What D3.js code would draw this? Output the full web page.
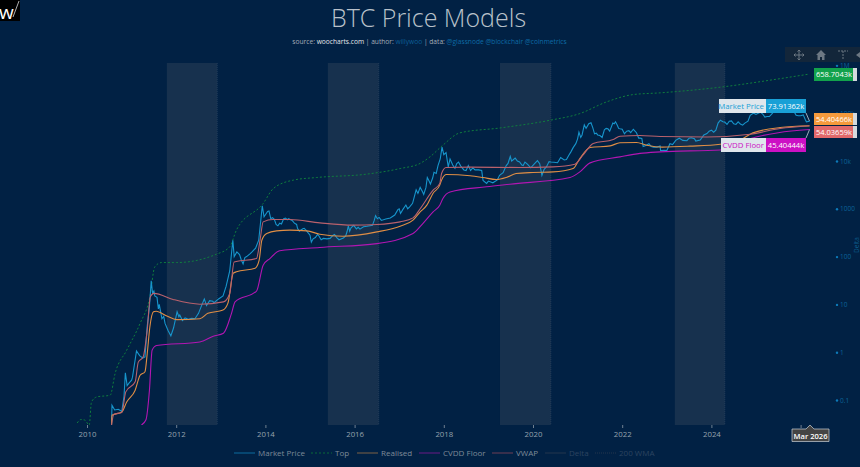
<!DOCTYPE html>
<html>
<head>
<meta charset="utf-8">
<script src="https://cdn.jsdelivr.net/npm/d3@7"></script>
<style>
  html, body { margin: 0; padding: 0; background: #012144; overflow: hidden; }
  text { font-family: "Open Sans", sans-serif; }
</style>
</head>
<body>
<div id="chart"></div>
<script>
// values: [decimal year, usd]
var marketPrice = [[2010.55,0.03],[2010.56,0.078],[2010.62,0.062],[2010.7,0.064],[2010.78,0.058],[2010.83,0.12],[2010.86,0.37],[2010.9,0.2],[2010.95,0.23],[2011.0,0.26],[2011.02,0.3],[2011.08,0.7],[2011.11,1.06],[2011.18,0.85],[2011.25,0.75],[2011.3,0.8],[2011.35,3.5],[2011.4,9],[2011.44,31],[2011.47,17],[2011.5,19],[2011.52,15],[2011.57,14],[2011.6,8],[2011.62,10],[2011.68,5],[2011.72,5.6],[2011.75,4],[2011.82,2.8],[2011.88,2.2],[2011.94,3.2],[2012.02,7],[2012.06,5.5],[2012.08,6],[2012.14,4.6],[2012.2,5.2],[2012.27,4.9],[2012.35,5.1],[2012.42,5],[2012.5,6.5],[2012.58,10],[2012.63,13],[2012.68,9.5],[2012.75,12],[2012.82,11.6],[2012.85,10.8],[2012.95,13],[2013.05,15],[2013.12,24],[2013.2,50],[2013.27,220],[2013.3,100],[2013.36,125],[2013.42,110],[2013.46,85],[2013.5,70],[2013.54,95],[2013.58,100],[2013.66,115],[2013.7,125],[2013.78,150],[2013.85,220],[2013.93,1150],[2013.97,680],[2014.0,750],[2014.05,880],[2014.08,900],[2014.12,620],[2014.16,650],[2014.2,600],[2014.24,470],[2014.28,440],[2014.32,500],[2014.36,480],[2014.41,620],[2014.45,640],[2014.49,590],[2014.52,620],[2014.6,570],[2014.65,500],[2014.7,470],[2014.72,390],[2014.76,340],[2014.8,360],[2014.84,380],[2014.87,390],[2014.92,350],[2014.95,320],[2015.0,280],[2015.03,200],[2015.07,235],[2015.12,250],[2015.17,290],[2015.2,270],[2015.25,225],[2015.3,240],[2015.38,235],[2015.45,240],[2015.52,280],[2015.55,290],[2015.6,250],[2015.65,225],[2015.75,245],[2015.8,270],[2015.83,330],[2015.86,440],[2015.89,340],[2015.92,400],[2015.98,450],[2016.04,380],[2016.08,410],[2016.12,375],[2016.2,420],[2016.28,430],[2016.4,450],[2016.44,570],[2016.47,720],[2016.51,620],[2016.55,660],[2016.6,570],[2016.7,610],[2016.8,640],[2016.9,740],[2016.97,960],[2017.0,1000],[2017.03,800],[2017.08,960],[2017.15,1200],[2017.19,1000],[2017.23,1080],[2017.3,1300],[2017.38,2500],[2017.42,2100],[2017.47,2800],[2017.52,2300],[2017.55,2000],[2017.6,2800],[2017.63,4500],[2017.67,3800],[2017.7,3300],[2017.75,4400],[2017.78,5800],[2017.83,5500],[2017.87,8000],[2017.92,11000],[2017.96,19500],[2018.0,13500],[2018.05,15000],[2018.1,7500],[2018.14,11000],[2018.2,8200],[2018.25,7000],[2018.29,8800],[2018.33,9500],[2018.38,7800],[2018.45,6500],[2018.5,6300],[2018.55,8000],[2018.6,6300],[2018.65,7200],[2018.7,6500],[2018.78,6500],[2018.85,6300],[2018.88,3900],[2018.96,3400],[2019.0,3800],[2019.1,3500],[2019.2,4000],[2019.25,5000],[2019.33,5700],[2019.4,8000],[2019.44,8900],[2019.49,12500],[2019.52,10000],[2019.55,10500],[2019.6,11500],[2019.65,10000],[2019.7,9500],[2019.75,8200],[2019.78,8000],[2019.82,9500],[2019.88,8500],[2019.95,7200],[2020.03,8700],[2020.1,10200],[2020.15,8800],[2020.2,5000],[2020.25,6700],[2020.3,7500],[2020.36,9700],[2020.4,9500],[2020.47,9400],[2020.55,9200],[2020.62,11800],[2020.7,10500],[2020.75,10700],[2020.8,13000],[2020.85,15500],[2020.9,19000],[2020.96,23000],[2021.0,29000],[2021.03,40000],[2021.07,31000],[2021.1,35000],[2021.15,57000],[2021.19,48000],[2021.25,60000],[2021.3,63000],[2021.34,50000],[2021.38,37000],[2021.42,38000],[2021.45,35000],[2021.5,34000],[2021.55,31000],[2021.6,45000],[2021.64,48000],[2021.68,47000],[2021.72,42000],[2021.79,62000],[2021.82,60000],[2021.85,66000],[2021.89,56000],[2021.92,48000],[2021.95,47000],[2022.0,46000],[2022.05,37000],[2022.1,42000],[2022.15,43000],[2022.19,39000],[2022.25,46000],[2022.32,39000],[2022.37,30000],[2022.4,30000],[2022.44,29500],[2022.47,20000],[2022.53,21000],[2022.6,23000],[2022.65,20000],[2022.7,19500],[2022.78,19500],[2022.85,20500],[2022.86,16500],[2022.94,16800],[2023.0,16500],[2023.07,23000],[2023.13,22000],[2023.2,27000],[2023.28,30000],[2023.36,27000],[2023.45,26500],[2023.5,30000],[2023.55,30500],[2023.62,29300],[2023.65,26000],[2023.75,27500],[2023.83,35000],[2023.9,37500],[2023.95,42000],[2024.0,44000],[2024.05,40000],[2024.1,44000],[2024.15,62000],[2024.2,71000],[2024.26,66000],[2024.3,65000],[2024.35,58000],[2024.4,68000],[2024.45,69000],[2024.5,60000],[2024.55,58000],[2024.6,66000],[2024.65,59000],[2024.7,56000],[2024.75,62000],[2024.82,68000],[2024.87,90000],[2024.92,97000],[2024.95,100000],[2025.0,94000],[2025.05,100000],[2025.1,105000],[2025.15,96000],[2025.2,83000],[2025.25,85000],[2025.3,85000],[2025.35,95000],[2025.4,108000],[2025.45,104000],[2025.5,108000],[2025.54,118000],[2025.58,118000],[2025.63,115000],[2025.68,110000],[2025.75,115000],[2025.77,123000],[2025.8,112000],[2025.83,110000],[2025.87,101000],[2025.9,90000],[2025.95,88000],[2026.0,88000],[2026.06,92000],[2026.1,75000],[2026.13,66000],[2026.2,68000]];

var topModel = [[2009.78,0.033],[2009.86,0.039],[2009.95,0.038],[2010.05,0.03],[2010.1,0.091],[2010.22,0.116],[2010.52,0.126],[2010.63,0.358],[2010.89,1.1],[2011.19,4],[2011.41,14.4],[2011.52,61],[2011.67,75],[2012.01,75],[2012.9,112],[2013.2,160],[2013.35,357],[2013.95,1290],[2014.18,2660],[2014.63,3980],[2015.15,4510],[2016.27,5300],[2017.02,6940],[2017.47,8900],[2017.69,12200],[2017.98,21400],[2018.36,38700],[2019.26,49000],[2020.38,71000],[2021.05,98000],[2021.65,172000],[2022.25,245000],[2022.85,266000],[2024.26,355000],[2025.38,500000],[2026.2,658704]];

var realised = [[2010.55,0.03],[2010.56,0.048],[2010.78,0.056],[2010.89,0.091],[2011.08,0.16],[2011.19,0.33],[2011.3,0.39],[2011.35,0.93],[2011.41,3.4],[2011.49,7],[2011.55,7.2],[2011.79,5.7],[2012.01,4.8],[2012.53,5],[2012.71,6.5],[2013.05,7.6],[2013.16,10.6],[2013.28,45],[2013.35,48],[2013.77,57],[2013.86,84],[2013.92,220],[2014.03,304],[2014.25,345],[2014.55,357],[2014.93,345],[2015.22,294],[2015.74,267],[2016.5,329],[2017.02,432],[2017.31,578],[2017.47,860],[2017.62,1190],[2017.76,2120],[2017.91,3120],[2017.95,3980],[2018.06,5220],[2018.59,4900],[2018.88,4510],[2019.18,4090],[2019.4,4510],[2019.62,5470],[2020.0,5750],[2020.45,5900],[2020.9,6940],[2021.05,11200],[2021.28,19100],[2021.73,20700],[2021.95,24000],[2022.32,24400],[2022.55,21400],[2022.9,19500],[2023.52,20400],[2024.2,22400],[2024.64,27200],[2024.93,38700],[2025.54,50000],[2026.2,54405]];

var cvddFloor = [[2011.22,0.03],[2011.32,0.038],[2011.4,0.16],[2011.46,1.1],[2011.56,1.38],[2012.53,1.64],[2012.83,2.16],[2013.06,2.5],[2013.24,6.5],[2013.32,11.3],[2013.8,18.9],[2013.95,66],[2014.1,91],[2014.32,132],[2015.22,155],[2016.5,187],[2017.31,304],[2017.53,490],[2017.76,860],[2017.91,1190],[2017.98,1640],[2018.14,2250],[2018.96,2880],[2019.48,3270],[2020.83,4510],[2021.05,5900],[2021.28,9120],[2021.95,12200],[2022.4,14400],[2022.85,15500],[2024.2,17000],[2024.5,22000],[2024.9,30000],[2025.5,39000],[2026.2,45404]];

var vwap = [[2010.55,0.03],[2010.6,0.05],[2010.78,0.055],[2010.87,0.148],[2011.08,0.24],[2011.15,0.62],[2011.26,0.8],[2011.35,2.9],[2011.42,14.4],[2011.5,17],[2011.93,12.7],[2012.53,10.1],[2013.06,11.3],[2013.2,16.9],[2013.3,77],[2013.8,91],[2013.88,220],[2013.95,532],[2014.17,597],[2014.55,597],[2015.22,507],[2015.96,454],[2016.5,468],[2017.02,532],[2017.31,645],[2017.47,1000],[2017.76,2450],[2017.91,3370],[2017.95,5470],[2018.05,7300],[2018.59,7420],[2019.7,7300],[2020.45,7530],[2020.94,8570],[2021.12,13200],[2021.35,23200],[2021.8,28100],[2021.95,33000],[2022.4,34100],[2022.85,32500],[2023.9,31800],[2024.87,36300],[2025.54,47900],[2026.2,54037]];

var cycleBands = [[2011.79,2012.92],[2015.4,2016.54],[2019.26,2020.4],[2023.18,2024.3]];
var yearTicks = [2010,2012,2014,2016,2018,2020,2022,2024,2026];
var priceTicks = [0.1,1,10,100,1000,10000,100000,1000000];
var priceTickLabels = ["0.1","1","10","100","1000","10k","100k","1M"];
var legendNames = ["Market Price","Top","Realised","CVDD Floor","VWAP","Delta","200 WMA"];
var legendColors = ["#0d6d9e","#0b6b38","#7f6245","#6a1a86","#6f3f55","#24364d","#24364d"];
var legendTextColors = ["#7e8b98","#7e8b98","#7e8b98","#7e8b98","#7e8b98","#2c4460","#2c4460"];
var legendDashes = [null,"2,2",null,null,null,null,"1,1"];
var legendX = [234,311,357,419,492,545,595];

var width = 860, height = 467;
var x = d3.scaleLinear().domain([2009, 2027]).range([87 - 44.6, 87 + 17 * 44.6]);
var y = d3.scaleLog().domain([0.03, 1120000]).range([425, 63]);

var svg = d3.select("#chart").append("svg")
  .attr("width", width)
  .attr("height", height)
  .style("display", "block");

svg.append("rect").attr("width", width).attr("height", height).attr("fill", "#012144");

svg.append("defs").append("clipPath").attr("id", "plot")
  .append("rect").attr("x", 40).attr("y", 63).attr("width", 780).attr("height", 362);

// shaded bands
svg.selectAll(".band").data(cycleBands).enter().append("rect")
  .attr("class", "band")
  .attr("x", function(d) { return x(d[0]); })
  .attr("width", function(d) { return x(d[1]) - x(d[0]); })
  .attr("y", 63).attr("height", 362)
  .attr("fill", "#17314e");

svg.selectAll(".bandEdge").data(cycleBands).enter().append("line")
  .attr("class", "bandEdge")
  .attr("x1", function(d) { return x(d[1]); })
  .attr("x2", function(d) { return x(d[1]); })
  .attr("y1", 63).attr("y2", 425)
  .attr("stroke", "#2b4460").attr("stroke-width", 0.7).attr("stroke-dasharray", "1,1");

// axes (the 2026 label sits under the date tooltip)
var xAxis = d3.axisBottom(x).tickValues(yearTicks)
  .tickFormat(function(d) { return d === 2026 ? "" : d3.format("d")(d); })
  .tickSize(3).tickPadding(3);
var xG = svg.append("g").attr("transform", "translate(0,425)").call(xAxis);
xG.select(".domain").remove();
xG.selectAll("line").attr("stroke", "#6f7f90");
xG.selectAll("text").attr("fill", "#96a1ad").attr("font-size", 7.8);

var yAxis = d3.axisRight(y).tickValues(priceTicks)
  .tickFormat(function(d) { return priceTickLabels[priceTicks.indexOf(d)]; })
  .tickSize(0).tickPadding(0);
var yG = svg.append("g").attr("transform", "translate(840,0)").call(yAxis);
yG.select(".domain").remove();
yG.selectAll("text").attr("fill", "#0b6298").attr("font-size", 6.5);
yG.selectAll(".tick").append("circle").attr("cx", -3).attr("r", 1.2).attr("fill", "#0d7ab8");

svg.append("text").attr("transform", "translate(859,245) rotate(-90)")
  .attr("text-anchor", "middle").attr("font-size", 6.5).attr("fill", "#0b5a8a").text("Delta");

// model lines
var line = d3.line().x(function(d) { return x(d[0]); }).y(function(d) { return y(d[1]); });
var smooth = d3.line().curve(d3.curveMonotoneX).x(function(d) { return x(d[0]); }).y(function(d) { return y(d[1]); });
var plot = svg.append("g").attr("clip-path", "url(#plot)");

function addLine(gen, data, color, w, dash) {
  plot.append("path").datum(data)
    .attr("d", gen)
    .attr("fill", "none")
    .attr("stroke", color)
    .attr("stroke-width", w)
    .attr("stroke-dasharray", dash);
}
addLine(smooth, topModel, "#0f7d3e", 1, "2,2");
addLine(line, marketPrice, "#1795cc", 1.1, null);
addLine(smooth, cvddFloor, "#b216b2", 1.1, null);
addLine(smooth, realised, "#e08e45", 1.1, null);
addLine(smooth, vwap, "#b9616c", 1.1, null);

// legend
legendNames.forEach(function(name, i) {
  svg.append("line")
    .attr("x1", legendX[i]).attr("x2", legendX[i] + 21)
    .attr("y1", 453).attr("y2", 453)
    .attr("stroke", legendColors[i]).attr("stroke-width", 1)
    .attr("stroke-dasharray", legendDashes[i]);
  svg.append("text")
    .attr("x", legendX[i] + 24).attr("y", 456)
    .attr("font-size", 8).attr("fill", legendTextColors[i])
    .text(name);
});

// title
svg.append("text").attr("x", 428.5).attr("y", 27).attr("text-anchor", "middle")
  .attr("font-size", 25).attr("font-weight", 300).attr("fill", "#b9c1ca")
  .text("BTC Price Models");
var sub = svg.append("text").attr("x", 429.5).attr("y", 44).attr("text-anchor", "middle").attr("font-size", 6.65);
[["source: ","#a4adb7"],["woocharts.com","#e4e7ea"],[" | author: ","#a4adb7"],["willywoo","#0d5f98"],
 [" | data: ","#a4adb7"],["@glassnode @blockchair @coinmetrics","#0d6ba6"]].forEach(function(p) {
  sub.append("tspan").attr("fill", p[1]).text(p[0]);
});

// logo
svg.append("rect").attr("width", 20).attr("height", 21).attr("fill", "#000");
svg.append("text").attr("x", -1).attr("y", 19).attr("font-size", 19).attr("font-family", "Liberation Serif")
  .attr("fill", "#fff").text("w");
svg.append("path").attr("d", "M13 17L19 1").attr("stroke", "#fff").attr("stroke-width", 0.7);

// modebar
var bar = svg.append("g");
bar.append("rect").attr("x", 785).attr("y", 47).attr("width", 75).attr("height", 15).attr("fill", "#13263a");
bar.append("path").attr("d", "M799 50V60M794 55H804M797.5 51.5L799 50L800.5 51.5M797.5 58.5L799 60L800.5 58.5M795.5 53.5L794 55L795.5 56.5M802.5 53.5L804 55L802.5 56.5")
  .attr("stroke", "#6d7883").attr("fill", "none").attr("stroke-width", 1);
bar.append("path").attr("d", "M816 55L821 50L826 55H824.5V60H822V57H820V60H817.5V55Z").attr("fill", "#6d7883");
bar.append("path").attr("d", "M838 51H848M843 51V60").attr("stroke", "#6d7883").attr("stroke-dasharray", "2,1").attr("fill", "none");
bar.append("path").attr("d", "M860 52L856 55L860 58Z").attr("fill", "#6d7883");

// end labels with little arrows
var endX = x(2026.2);
function arrowLabel(val, color, boxTop, boxH, px) {
  var mid = boxTop + boxH / 2;
  svg.append("path")
    .attr("d", "M" + endX + " " + px + "L814 " + mid + "L814 " + boxTop + "H853V" + (boxTop + boxH) + "H814V" + mid + "Z")
    .attr("fill", color);
  svg.append("rect").attr("x", 853).attr("y", boxTop).attr("width", 4).attr("height", boxH).attr("fill", "#d5d9dd");
  svg.append("text").attr("x", 816).attr("y", mid + 2.8).attr("font-size", 7.5)
    .attr("fill", "#fff").text(val);
}
arrowLabel("658.7043k", "#12a24c", 68, 13, y(658704));
arrowLabel("54.40466k", "#f59a3c", 113, 12, y(54405));
arrowLabel("54.03659k", "#e2696b", 126, 12, y(54037));

function leftLabel(name, val, color, left, top, px) {
  var bottom = top + 14;
  svg.append("line").attr("x1", 806).attr("y1", top < px ? bottom : top).attr("x2", endX).attr("y2", px)
    .attr("stroke", "#c9d2da").attr("stroke-width", 0.8);
  svg.append("rect").attr("x", left).attr("y", top).attr("width", 766 - left).attr("height", 14).attr("fill", "#dfe6ec");
  svg.append("rect").attr("x", 766).attr("y", top).attr("width", 40).attr("height", 14).attr("fill", color);
  svg.append("text").attr("x", 764).attr("y", top + 10).attr("text-anchor", "end").attr("font-size", 7.8)
    .attr("fill", color).text(name);
  svg.append("text").attr("x", 786).attr("y", top + 10).attr("text-anchor", "middle").attr("font-size", 7.6)
    .attr("fill", "#fff").text(val);
}
leftLabel("Market Price", "73.91362k", "#19a0d6", 719, 99, y(68000));
leftLabel("CVDD Floor", "45.40444k", "#cc11c4", 721, 138, y(45404));

// date tooltip
svg.append("path").attr("d", "M792 429H806L810 425L814 429H829V441.5H792Z")
  .attr("fill", "#444").attr("stroke", "#c8ced4").attr("stroke-width", 0.7);
svg.append("text").attr("x", 810.5).attr("y", 438.5).attr("text-anchor", "middle").attr("font-size", 7.6)
  .attr("font-weight", 600).attr("fill", "#fff").text("Mar 2026");
</script>
</body>
</html>
